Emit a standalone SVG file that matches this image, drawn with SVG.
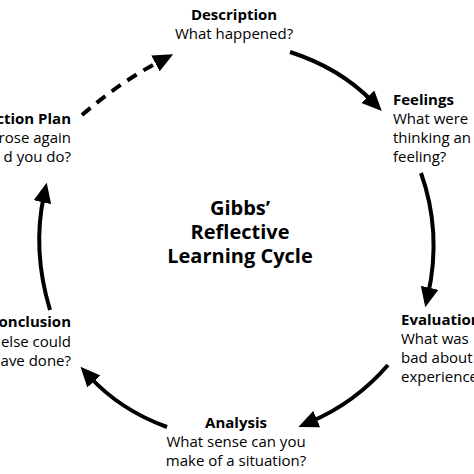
<svg xmlns="http://www.w3.org/2000/svg" width="474" height="474" viewBox="0 0 474 474">
<style>
text{font-family:"Open Sans","Noto Sans",sans-serif;font-size:15px;fill:#000}
.h{font-weight:bold}
.t{font-weight:bold;font-size:20px}
.c{stroke:#000;stroke-width:4;fill:none}
.d{stroke-dasharray:11 8}
</style>
<defs>
<marker id="ah" markerUnits="userSpaceOnUse" markerWidth="20" markerHeight="18" refX="7" refY="8.5" orient="auto" viewBox="0 0 19 17">
<path d="M0,0 L19,8.5 L0,17 z" fill="#000"/>
</marker>
</defs>
<rect width="474" height="474" fill="#fff"/>
<g id="connectors">
<path class="c d" d="M82,115 Q120,82 162,60" marker-end="url(#ah)"/>
<path class="c" d="M290,52 Q340,68 373,102" marker-end="url(#ah)"/>
<path class="c" d="M421,173 Q442,232 428,295" marker-end="url(#ah)"/>
<path class="c" d="M388,365 Q355,403 310,422" marker-end="url(#ah)"/>
<path class="c" d="M167,427 Q120,410 89,376" marker-end="url(#ah)"/>
<path class="c" d="M50,310 Q32,250 44,195" marker-end="url(#ah)"/>
</g>
<g id="title" text-anchor="middle">
<text class="t" x="240" y="215">Gibbs’</text>
<text class="t" x="240" y="239">Reflective</text>
<text class="t" x="240" y="263">Learning Cycle</text>
</g>
<g id="description" text-anchor="middle">
<text class="h" x="234" y="20">Description</text>
<text x="234" y="39">What happened?</text>
</g>
<g id="feelings">
<text class="h" x="393" y="105">Feelings</text>
<text x="393" y="124">What were</text>
<text x="393" y="143">thinking an</text>
<text x="393" y="162">feeling?</text>
</g>
<g id="evaluation">
<text class="h" x="401" y="325">Evaluation</text>
<text x="401" y="344">What was</text>
<text x="401" y="363">bad about</text>
<text x="401" y="382">experience</text>
</g>
<g id="analysis" text-anchor="middle">
<text class="h" x="236" y="428">Analysis</text>
<text x="236" y="447">What sense can you</text>
<text x="236" y="466">make of a situation?</text>
</g>
<g id="conclusion" text-anchor="end">
<text class="h" x="71" y="327">onclusion</text>
<text x="71" y="347">else could</text>
<text x="71" y="366">ave done?</text>
</g>
<g id="action-plan" text-anchor="end">
<text class="h" x="71" y="124">ction Plan</text>
<text x="71" y="143">rose again</text>
<text x="71" y="162">d you do?</text>
</g>
</svg>
